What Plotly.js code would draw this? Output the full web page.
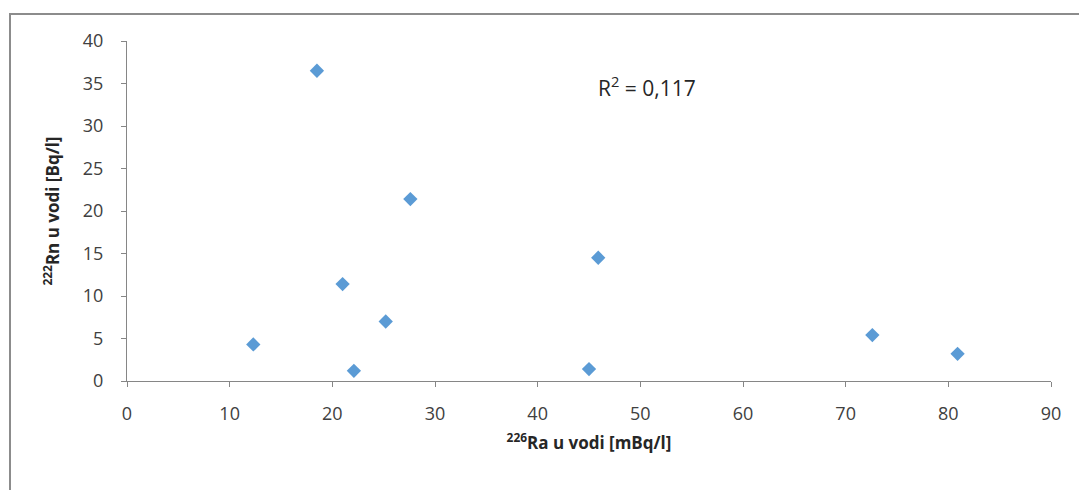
<!DOCTYPE html>
<html>
<head>
<meta charset="utf-8">
<script src="https://cdn.plot.ly/plotly-3.0.1.min.js"></script>
<style>html,body{margin:0;padding:0;background:#fff;}#chart{width:1079px;height:490px;}</style>
</head>
<body>
<div id="chart"></div>
<script>
const raValues = [12.3, 18.5, 21.0, 22.1, 25.2, 27.6, 45.9, 45.0, 72.6, 80.9];
const rnValues = [4.3, 36.5, 11.4, 1.2, 7.0, 21.4, 14.5, 1.4, 5.4, 3.2];
const xTicks = [0, 10, 20, 30, 40, 50, 60, 70, 80, 90];
const yTicks = [0, 5, 10, 15, 20, 25, 30, 35, 40];
const xTitle = '<b><sup>226</sup>Ra u vodi [mBq/l]</b>';
const yTitle = '<b><sup>222</sup>Rn u vodi [Bq/l]</b>';
const rLabel = 'R<sup>2</sup> = 0,117';

const font = 'Open Sans, Noto Sans, sans-serif';
const trace = {
  x: raValues, y: rnValues, type: 'scatter', mode: 'markers',
  marker: {symbol: 'diamond', size: 11, color: '#5B9BD5'},
  hoverinfo: 'skip'
};
const axisCommon = {
  showgrid: false, zeroline: false, showline: true, linecolor: '#868686', linewidth: 1,
  ticks: 'outside', ticklen: 5, tickcolor: '#868686', tickmode: 'array',
  tickfont: {family: font, size: 18, color: '#404040'}
};
const layout = {
  width: 1079, height: 490,
  margin: {l: 127, r: 28, t: 41, b: 109},
  paper_bgcolor: '#fff', plot_bgcolor: '#fff',
  showlegend: false,
  xaxis: Object.assign({}, axisCommon, {
    range: [0, 90], tickvals: xTicks, ticktext: xTicks.map(String),
    ticklabelstandoff: 11,
    title: {text: xTitle, font: {family: font, size: 17, color: '#262626'}, standoff: 13}
  }),
  yaxis: Object.assign({}, axisCommon, {
    range: [0, 40], tickvals: yTicks, ticktext: yTicks.map(String),
    ticklabelstandoff: 14,
    title: {text: yTitle, font: {family: font, size: 17, color: '#262626'}, standoff: 18}
  }),
  annotations: [{
    xref: 'paper', yref: 'paper', x: (647 - 127) / 924, y: (381 - 87) / 340,
    xanchor: 'center', yanchor: 'middle', showarrow: false,
    text: rLabel, font: {family: font, size: 21, color: '#262626'}
  }],
  shapes: [{
    type: 'rect', xref: 'paper', yref: 'paper',
    x0: (10 - 127) / 924, x1: 1.2, y0: -0.5, y1: (381 - 14) / 340,
    line: {color: '#8c8c8c', width: 2}, fillcolor: 'rgba(0,0,0,0)', layer: 'below'
  }]
};
Plotly.newPlot('chart', [trace], layout, {displayModeBar: false, staticPlot: true});
</script>
</body>
</html>
